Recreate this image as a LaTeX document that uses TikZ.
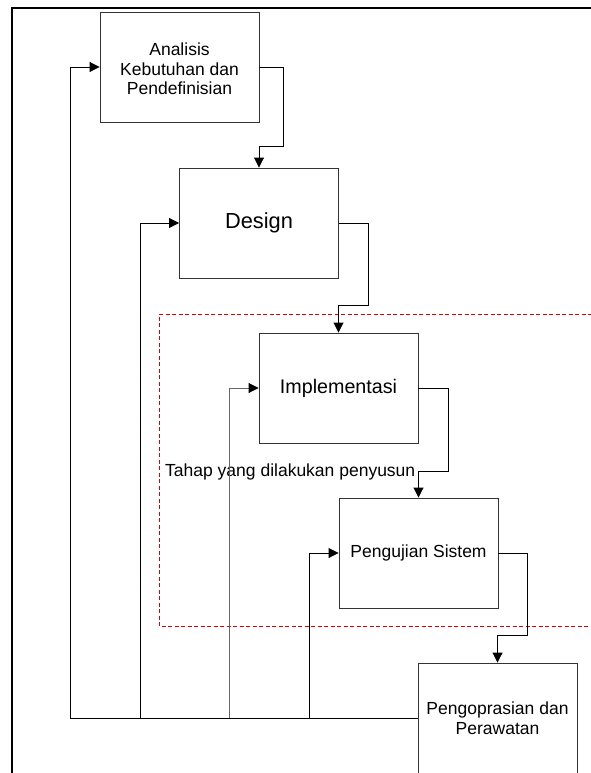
\documentclass[tikz,border=0pt]{standalone}
\usepackage{fontspec}
\setmainfont{Liberation Sans}
\usetikzlibrary{arrows.meta}
\begin{document}
\begin{tikzpicture}[x=1pt,y=-1pt,
  box/.style={draw=black!80,line width=0.9pt,minimum width=159pt,minimum height=110pt,inner sep=0pt,align=center,font=\fontsize{17.5}{19.5}\selectfont},
  conn/.style={draw=black,line width=0.9pt},
  arr/.style={conn,-{Triangle[length=10pt,width=10pt]}},
  grayarr/.style={draw=black!60,line width=0.9pt,-{Triangle[length=10pt,width=10pt,color=black]}},
  lbl/.style={font=\fontsize{17.5}{19.5}\selectfont,inner sep=0pt}]
\useasboundingbox (0,0) rectangle (590,773);
% outer frame
\draw[line width=2.2pt] (12,775) -- (12,8) -- (592,8);
% red dashed region
\draw[red!85!black,line width=0.9pt,dash pattern=on 4pt off 2.5pt] (592,314) -- (159,314) -- (159,626) -- (592,626);
% boxes
\node[box] (b1) at (179.5,67) {\rule{0pt}{17pt}Analisis\\Kebutuhan dan\\Pendefinisian};
\node[box] (b2) at (259,223) {\fontsize{21.8}{24}\selectfont Design};
\node[box] (b3) at (338.5,388) {\fontsize{19.7}{22}\selectfont Implementasi};
\node[box] (b4) at (418.5,553) {Pengujian Sistem};
\node[box] (b5) at (497.5,718) {Pengoprasian dan\\Perawatan};
% label
\node[lbl,anchor=base west] (lab) at (165,476) {Tahap yang dilakukan penyusun};
% forward connectors
\draw[arr] (b1.east) -| (283,146) -| (b2.north);
\draw[arr] (b2.east) -| (368,305) -| (b3.north);
\draw[arr] (b3.east) -| (448,471) -| (b4.north);
\draw[arr] (b4.east) -| (527,635) -| (b5.north);
% feedback connectors
\coordinate (c1) at (70,718);
\coordinate (c2) at (140,718);
\coordinate (c3) at (229,718);
\coordinate (c4) at (309,718);
\draw[arr] (b5.west) -- (c1) |- (b1.west);
\draw[arr] (c2) |- (b2.west);
\draw[grayarr] (c3) |- (b3.west);
\draw[arr] (c4) |- (b4.west);
\end{tikzpicture}
\end{document}
